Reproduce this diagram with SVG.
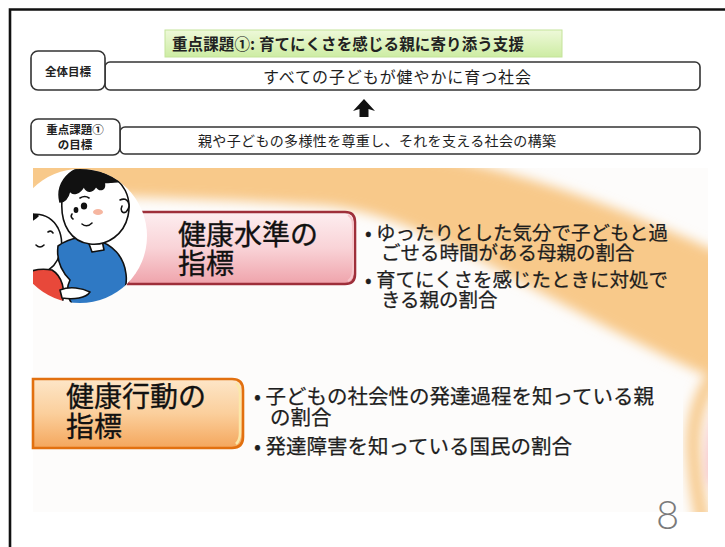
<svg xmlns="http://www.w3.org/2000/svg" width="725" height="547" viewBox="0 0 725 547">
  <style>
    .jp { font-family: "Noto Sans CJK JP", "Noto Sans", sans-serif; }
    .box { fill: #ffffff; stroke: #333333; stroke-width: 1.6; }
    .lbl { font-size: 11.5px; fill: #222222; text-anchor: middle; font-weight: 700; }
    .big { font-size: 28px; fill: #111111; stroke: #111111; stroke-width: 0.35; }
    .bul { fill: #1e1e1e; stroke: #1e1e1e; stroke-width: 0.25; }
    .ink { stroke: #111111; stroke-width: 1.6; stroke-linejoin: round; stroke-linecap: round; }
  </style>
  <defs>
    <linearGradient id="gTitle" x1="0" y1="0" x2="0" y2="1">
      <stop offset="0" stop-color="#eef9d9"/>
      <stop offset="1" stop-color="#cdeca3"/>
    </linearGradient>
    <linearGradient id="gPink" x1="0" y1="0" x2="0" y2="1">
      <stop offset="0" stop-color="#fdeef0"/>
      <stop offset="0.5" stop-color="#f9d3d7"/>
      <stop offset="1" stop-color="#efa3ab"/>
    </linearGradient>
    <linearGradient id="gOrange" x1="0" y1="0" x2="0" y2="1">
      <stop offset="0" stop-color="#fde6c8"/>
      <stop offset="0.5" stop-color="#fbcf9c"/>
      <stop offset="1" stop-color="#f4a65c"/>
    </linearGradient>
    <filter id="soft" x="-20%" y="-20%" width="140%" height="140%">
      <feGaussianBlur stdDeviation="6"/>
    </filter>
    <clipPath id="panel">
      <rect x="33" y="168" width="675" height="344"/>
    </clipPath>
    <clipPath id="circ">
      <circle cx="80" cy="236" r="67"/>
    </clipPath>
  </defs>

  <!-- page frame -->
  <path d="M10 547 V9.5 H725" fill="none" stroke="#111111" stroke-width="2.6"/>

  <!-- heading -->
  <g id="title">
    <rect x="165" y="30" width="397" height="27" fill="url(#gTitle)" stroke="#c4e39a" stroke-width="1"/>
    <text class="jp" x="172" y="49.5" font-size="15.5" font-weight="700" fill="#222" textLength="352" lengthAdjust="spacing">重点課題①: 育てにくさを感じる親に寄り添う支援</text>
  </g>

  <!-- goals -->
  <g id="goal-overall">
    <rect class="box" x="105" y="62" width="595" height="28" rx="5"/>
    <rect class="box" x="31" y="51" width="74" height="39" rx="7"/>
    <text class="jp lbl" x="68" y="76" font-size="12">全体目標</text>
    <text class="jp" x="263" y="83" font-size="16" fill="#1e1e1e" textLength="268" lengthAdjust="spacing">すべての子どもが健やかに育つ社会</text>
  </g>
  <g id="goal-issue">
    <rect class="box" x="120" y="127" width="580" height="27" rx="5"/>
    <rect class="box" x="31" y="119" width="89" height="36" rx="7"/>
    <text class="jp lbl" x="75" y="134">重点課題①</text>
    <text class="jp lbl" x="75" y="149">の目標</text>
    <text class="jp" x="198" y="145.5" font-size="14" fill="#1e1e1e" textLength="358" lengthAdjust="spacing">親や子どもの多様性を尊重し、それを支える社会の構築</text>
  </g>

  <g id="connectors">
    <path d="M364 99 L375 111 L368.5 109 L368.5 117 L359.5 117 L359.5 109 L353 111 Z" fill="#111111"/>
  </g>

  <!-- indicator panel background with the orange sweep -->
  <g id="backdrop" clip-path="url(#panel)">
    <rect x="33" y="168" width="675" height="344" fill="#fdfcfb"/>
    <path d="M10 150 H380 C480 158 590 192 740 262 L740 390 C650 352 570 308 480 260 C420 230 380 212 330 206 C250 200 120 196 10 194 Z" fill="#f8c98a" filter="url(#soft)"/>
    <path d="M740 350 C700 380 690 420 694 460 C696 490 700 510 705 530" fill="none" stroke="#f7c98b" stroke-width="14" filter="url(#soft)"/>
    <path d="M740 380 C712 400 704 440 708 480 L740 520 Z" fill="#f5b8c0" filter="url(#soft)"/>
  </g>

  <!-- health level indicator -->
  <g id="level">
    <path d="M128 212 H345 Q355 212 355 222 V274 Q355 284 345 284 H128 Z" fill="url(#gPink)" stroke="#9e2f3a" stroke-width="2.6"/>
    <path d="M348 215 Q353 218 353 226 V270 Q353 278 348 281" fill="none" stroke="#f6c6cb" stroke-width="2"/>
    <text class="jp big"><tspan x="178" y="245">健康水準の</tspan><tspan x="178" y="274">指標</tspan></text>
  </g>

  <!-- mother and child -->
  <g id="illustration" clip-path="url(#panel)">
    <circle cx="80" cy="236" r="67" fill="#ffffff"/>
    <g clip-path="url(#circ)">
      <!-- child -->
      <path class="ink" d="M14 226 C24 210 48 210 58 228 C66 244 60 266 44 272 C30 276 16 266 14 250 Z" fill="#ffffff"/>
      <path class="ink" d="M14 226 C20 214 30 212 38 216 C34 220 28 222 24 226 Z" fill="#111111"/>
      <path class="ink" d="M36 245 q4 4 8 0" fill="none"/>
      <path class="ink" d="M48 232 q3 -2 5 1" fill="none"/>
      <path class="ink" d="M10 300 C12 278 30 266 52 270 C62 276 66 290 62 304 L10 304 Z" fill="#e8483a"/>
      <!-- mother shirt -->
      <path class="ink" d="M58 246 C72 236 86 236 96 240 C112 244 124 256 126 274 C128 290 120 302 110 306 L74 306 C66 298 66 288 70 280 C62 272 56 262 58 246 Z" fill="#2f79c4"/>
      <path class="ink" d="M88 241 L92 252 L104 250 L102 240" fill="#ffffff"/>
      <!-- hands -->
      <path class="ink" d="M60 290 C70 286 82 288 90 292 C86 298 74 300 62 298 Z" fill="#ffffff"/>
      <!-- mother head -->
      <path class="ink" d="M62 200 C64 178 86 168 106 174 C124 180 132 198 128 216 C124 234 108 246 90 244 C72 242 60 226 62 200 Z" fill="#ffffff"/>
      <path class="ink" d="M60 202 C56 186 66 170 86 166 C104 162 120 170 126 182 C118 180 110 184 104 182 C106 190 100 192 96 186 C92 194 86 192 84 186 C80 194 72 196 70 190 C68 198 64 202 60 202 Z" fill="#111111"/>
      <ellipse cx="84" cy="206" rx="3.2" ry="3.6" fill="#111111"/>
      <ellipse cx="76" cy="210" rx="2.4" ry="3" fill="#111111"/>
      <path class="ink" d="M80 198 q5 -3 9 0" fill="none"/>
      <path class="ink" d="M72 214 q-2 3 1 5" fill="none"/>
      <path class="ink" d="M82 224 q5 4 10 -1" fill="none"/>
      <ellipse cx="98" cy="212" rx="5" ry="3" fill="#f6b6a0"/>
      <path class="ink" d="M120 200 C128 196 132 206 126 212 C122 214 120 210 122 206" fill="#ffffff"/>
    </g>
  </g>

  <g id="level-items" font-size="19.5">
    <text class="jp bul"><tspan x="365" y="240">• ゆったりとした気分で子どもと過</tspan><tspan x="381" y="260">ごせる時間がある母親の割合</tspan></text>
    <text class="jp bul"><tspan x="365" y="287">• 育てにくさを感じたときに対処で</tspan><tspan x="381" y="307">きる親の割合</tspan></text>
  </g>

  <!-- health behaviour indicator -->
  <g id="behaviour">
    <path d="M33 379 H232 Q243 379 243 390 V437 Q243 448 232 448 H33 Z" fill="url(#gOrange)" stroke="#e2700f" stroke-width="2.6"/>
    <path d="M236 383 Q240 388 240 394 V433 Q240 440 236 444" fill="none" stroke="#fbe8a8" stroke-width="2.5"/>
    <text class="jp big"><tspan x="66" y="407">健康行動の</tspan><tspan x="66" y="437">指標</tspan></text>
  </g>

  <g id="behaviour-items" font-size="20.5">
    <text class="jp bul"><tspan x="254" y="404">• 子どもの社会性の発達過程を知っている親</tspan><tspan x="270" y="425">の割合</tspan></text>
    <text class="jp bul" x="254" y="454">• 発達障害を知っている国民の割合</text>
  </g>

  <text x="656" y="529" font-family="Lato, 'Open Sans', sans-serif" font-weight="300" font-size="40" fill="#7a7a7a">8</text>
</svg>
